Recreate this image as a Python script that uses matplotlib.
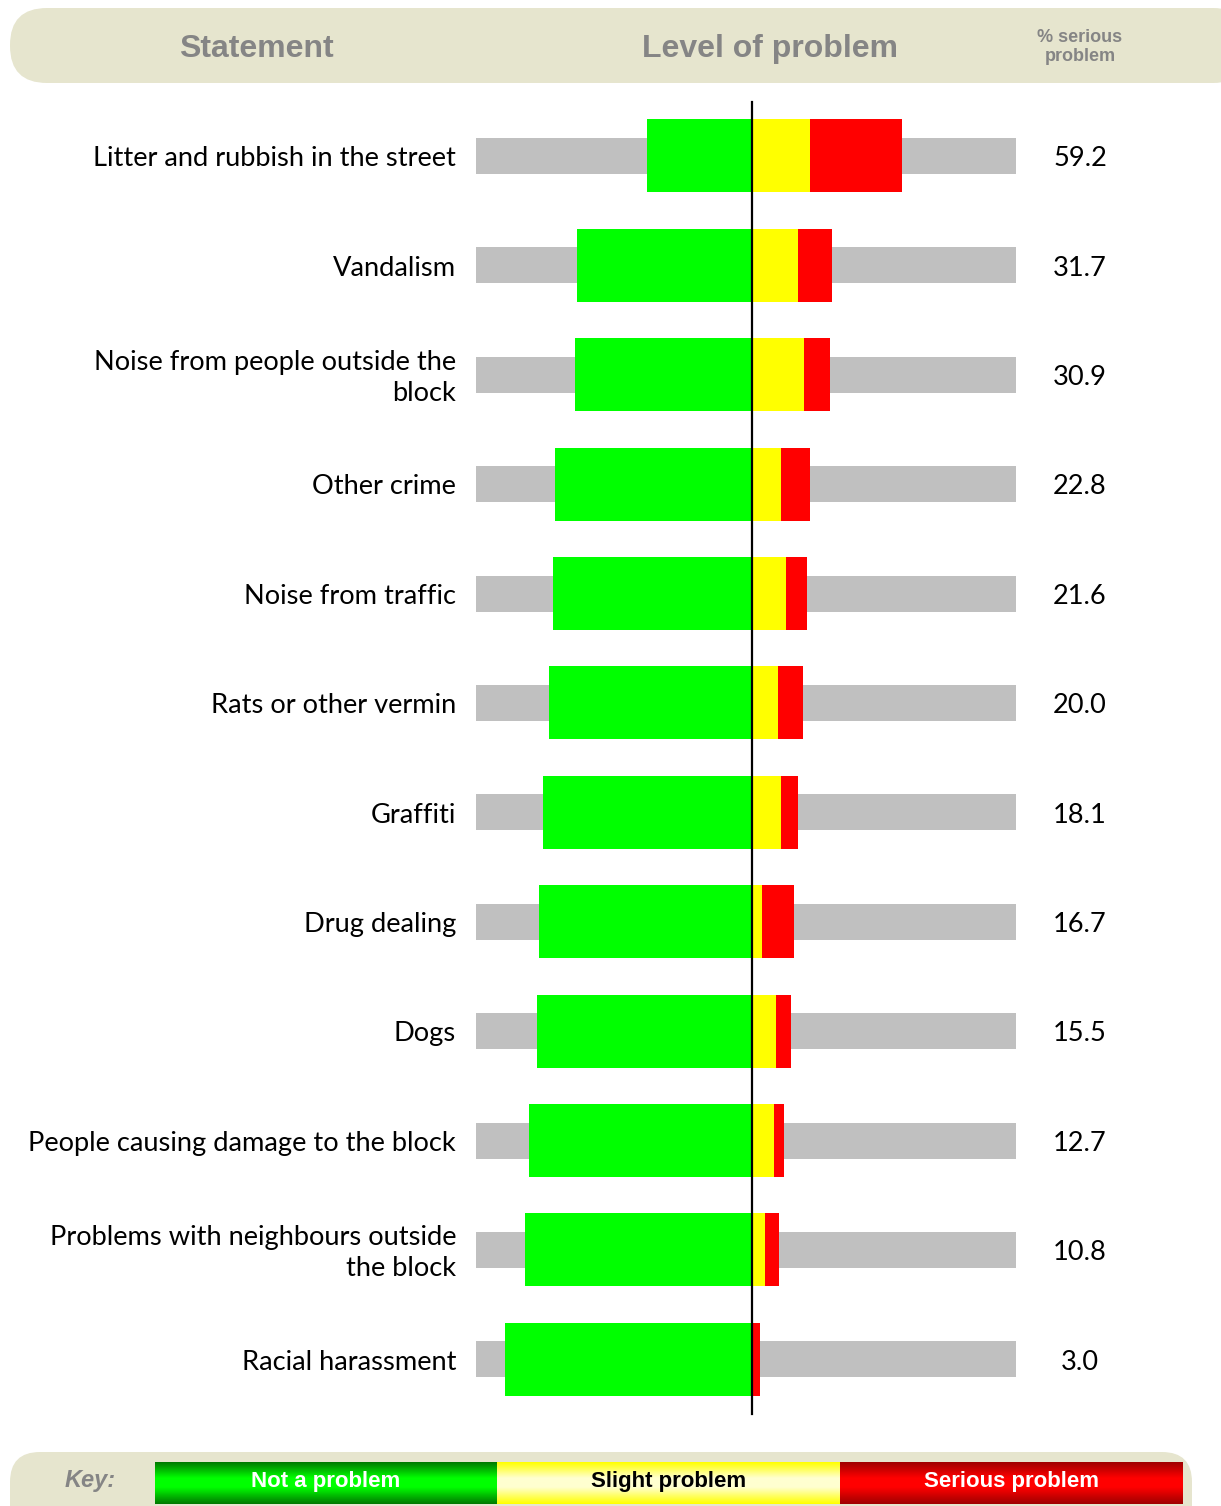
import numpy as np
import matplotlib.pyplot as plt
from matplotlib.patches import FancyBboxPatch
from matplotlib.colors import LinearSegmentedColormap

statements = [
    "Litter and rubbish in the street",
    "Vandalism",
    "Noise from people outside the\nblock",
    "Other crime",
    "Noise from traffic",
    "Rats or other vermin",
    "Graffiti",
    "Drug dealing",
    "Dogs",
    "People causing damage to the block",
    "Problems with neighbours outside\nthe block",
    "Racial harassment",
]
not_problem = [41.5, 69.2, 70.0, 77.9, 78.7, 80.2, 82.6, 84.2, 85.0, 88.1, 89.7, 97.6]
slight = [22.9, 18.2, 20.6, 11.5, 13.4, 10.2, 11.5, 3.9, 9.6, 8.7, 5.2, 0.2]
serious = [36.3, 13.5, 10.3, 11.3, 8.2, 9.8, 6.6, 12.8, 5.9, 4.0, 5.6, 2.8]
pct_serious = [59.2, 31.7, 30.9, 22.8, 21.6, 20.0, 18.1, 16.7, 15.5, 12.7, 10.8, 3.0]

key_labels = ["Not a problem", "Slight problem", "Serious problem"]

W, H = 1221, 1506
fig = plt.figure(figsize=(W / 100, H / 100), dpi=100)

# background decoration in pixel units
deco = fig.add_axes([0, 0, 1, 1])
deco.set_xlim(0, W)
deco.set_ylim(H, 0)
deco.axis("off")

beige = "#E6E5CE"
deco.add_patch(FancyBboxPatch((10, 8), 1240, 75,
                              boxstyle="round,pad=0,rounding_size=37",
                              fc=beige, ec="none"))
deco.add_patch(FancyBboxPatch((10, 1452), 1182, 90,
                              boxstyle="round,pad=0,rounding_size=30",
                              fc=beige, ec="none"))

head_font = ["Liberation Sans Narrow", "Liberation Sans", "DejaVu Sans"]
deco.text(256, 49, "Statement", ha="center", va="center", fontsize=23,
          fontweight="bold", color="#858585", family=head_font)
deco.text(770, 49, "Level of problem", ha="center", va="center", fontsize=23,
          fontweight="bold", color="#858585", family=head_font)
deco.text(1080, 47, "% serious\nproblem", ha="center", va="center", fontsize=13,
          fontweight="bold", color="#858585", family=head_font, linespacing=1.2)

# key with vertical gradients
deco.text(90, 1481, "Key:", ha="center", va="center", fontsize=17,
          fontstyle="italic", fontweight="bold", color="#858585", family=head_font)
grads = [
    ["#007A00", "#00FF00", "#00FF00", "#007A00"],
    ["#FFFF00", "#FFFFD0", "#FFFFD0", "#FFFF00"],
    ["#A00000", "#FF0000", "#FF0000", "#A00000"],
]
key_text = ["white", "black", "white"]
edges = [155, 497, 840, 1183]
col = np.linspace(0, 1, 64).reshape(-1, 1)
for i, (cols, lab) in enumerate(zip(grads, key_labels)):
    cmap = LinearSegmentedColormap.from_list("k%d" % i,
                                             list(zip([0, 0.38, 0.6, 1], cols)))
    deco.imshow(col, cmap=cmap, aspect="auto", interpolation="bilinear",
                extent=(edges[i], edges[i + 1], 1504, 1462), zorder=2)
    deco.text((edges[i] + edges[i + 1]) / 2, 1481, lab, ha="center", va="center",
              fontsize=16, fontweight="bold", color=key_text[i], zorder=3,
              family=["Liberation Sans", "DejaVu Sans"])

# chart axes: x in percent (253 px per 100 %), y in rows
ax = fig.add_axes([0, 0, 1, 1])
ax.patch.set_alpha(0)
px = 2.53
x0 = 752
ax.set_xlim(-x0 / px, (W - x0) / px)
y0, dy = 156, 109.4
ax.set_ylim((H - y0) / dy, -y0 / dy)
ax.axis("off")

rows = np.arange(len(statements))
grey_lo, grey_hi = (476 - x0) / px, (1016 - x0) / px
ax.barh(rows, grey_hi - grey_lo, left=grey_lo, height=36 / dy, color="#C0C0C0", zorder=1)
bh = 73 / dy
ax.barh(rows, -np.array(not_problem), height=bh, color="#00FF00", zorder=2)
ax.barh(rows, slight, height=bh, color="#FFFF00", zorder=2)
ax.barh(rows, serious, left=slight, height=bh, color="#FF0000", zorder=2)
ax.plot([0, 0], [(102 - y0) / dy, (1414 - y0) / dy], color="black", lw=1.6, zorder=3)

lab_font = ["Lato", "DejaVu Sans"]
for r, s, v in zip(rows, statements, pct_serious):
    ax.text((456 - x0) / px, r + 0.025, s, ha="right", va="center", fontsize=19.6,
            family=lab_font, linespacing=1.3)
    ax.text((1080 - x0) / px, r + 0.025, "%.1f" % v, ha="center", va="center",
            fontsize=19.6, family=lab_font)

fig.savefig("out.png", dpi=100)
